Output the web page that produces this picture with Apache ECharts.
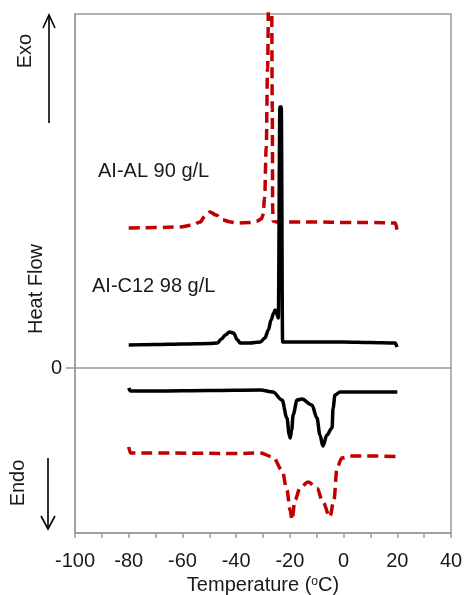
<!DOCTYPE html>
<html>
<head>
<meta charset="utf-8">
<script src="https://cdn.jsdelivr.net/npm/echarts@6/dist/echarts.min.js"></script>
<style>
  html, body { margin: 0; padding: 0; background: #fff; }
  #chart { width: 464px; height: 595px; }
</style>
</head>
<body>
<div id="chart"></div>
<script>
// DSC thermograms: cooling (exothermic, upper) and heating (endothermic, lower) scans
const xTicks = [-100, -80, -60, -40, -20, 0, 20, 40];

// AI-AL 90 g/L, cooling scan
const alCoolT = [-80, -79.3, -70, -61, -56, -53.5, -51.5, -49.7, -47.5, -45, -42, -39.7, -35, -32.2, -30.6, -30.0, -29.4, -28.8, -28.3, -27.8, -27.3, -26.8, -26.55, -26.4, -26.2, -25, -20, -10, 0, 10, 19.3, 20];
const alCoolQ = [14.0, 14.0, 14.05, 14.1, 14.3, 14.6, 15.2, 15.6, 15.3, 14.8, 14.6, 14.5, 14.55, 14.7, 14.9, 15.3, 17.0, 22.0, 30.0, 40.0, 46.0, 38.0, 26.0, 16.0, 14.7, 14.6, 14.6, 14.6, 14.55, 14.55, 14.5, 13.6];

// AI-C12 98 g/L, cooling scan
const c12CoolT = [-80, -70, -60, -50, -47, -45.5, -44, -42.5, -41, -39.5, -38.5, -35, -31, -29.3, -28, -27, -26, -25.5, -24.9, -24.3, -23.7, -23.2, -22.7, -20, -10, 0, 10, 19.2, 19.9];
const c12CoolQ = [2.3, 2.35, 2.4, 2.45, 2.5, 2.9, 3.3, 3.6, 3.5, 2.8, 2.5, 2.5, 2.6, 3.0, 3.8, 4.8, 5.5, 5.8, 5.4, 5.0, 26.1, 26.1, 2.6, 2.6, 2.6, 2.6, 2.55, 2.5, 2.1];

// AI-C12 98 g/L, heating scan
const c12HeatT = [-80, -79.3, -70, -50, -31, -26.3, -22.9, -21.1, -20.2, -19.9, -19.3, -18.8, -17.3, -15.5, -11.8, -9.9, -8.8, -7.7, -6.2, -4.3, -3.9, -3.2, -1.3, 2.4, 10, 20];
const c12HeatQ = [-2.0, -2.3, -2.3, -2.25, -2.2, -2.4, -3.2, -5.0, -6.7, -7.0, -6.2, -4.7, -3.2, -3.1, -3.7, -5.0, -6.7, -7.8, -6.7, -6.0, -4.0, -2.7, -2.4, -2.4, -2.4, -2.4];

// AI-AL 90 g/L, heating scan
const alHeatT = [-80, -79.3, -70, -40, -31, -26.3, -22.9, -21.1, -19.9, -19.2, -18.1, -16.2, -13.2, -9.9, -7.7, -5.1, -3.6, -2.4, -0.6, 2.4, 10, 20];
const alHeatQ = [-7.9, -8.5, -8.5, -8.55, -8.5, -8.9, -10.2, -12.2, -14.2, -15.2, -13.2, -12.0, -11.4, -12.0, -13.4, -14.9, -13.2, -9.9, -9.0, -8.8, -8.8, -8.85];

const pairs = (xs, ys) => xs.map((x, i) => [x, ys[i]]);

const RED = '#C00000';
const AXIS_GRAY = '#9a9a9a';
const FONT = 'Liberation Sans, Arial, sans-serif';

function curve(name, xs, ys, color, dashed) {
  return {
    name: name,
    type: 'line',
    data: pairs(xs, ys),
    showSymbol: false,
    smooth: 0.35,
    smoothMonotone: 'x',
    clip: true,
    silent: true,
    lineStyle: {
      color: color,
      width: 3.5,
      type: dashed ? [11, 6] : 'solid',
      join: 'round'
    },
    z: 3
  };
}

const chart = echarts.init(document.getElementById('chart'), null, { renderer: 'canvas' });

chart.setOption({
  animation: false,
  backgroundColor: '#ffffff',
  grid: {
    left: 75, right: 13, top: 14, bottom: 62,
    outerBoundsMode: 'none',
    containLabel: false,
    show: true,
    borderColor: AXIS_GRAY,
    borderWidth: 1.5,
    backgroundColor: 'transparent'
  },
  xAxis: {
    type: 'value',
    min: -100, max: 40, interval: 10,
    name: 'Temperature ({sup|o}C)',
    nameLocation: 'middle',
    nameGap: 31,
    nameTextStyle: {
      fontFamily: FONT, fontSize: 20, color: '#1a1a1a',
      rich: {
        sup: { fontFamily: FONT, fontSize: 12, color: '#1a1a1a', verticalAlign: 'top', padding: [0, 0, 8, 0] }
      }
    },
    axisLine: { onZero: false, lineStyle: { color: AXIS_GRAY, width: 1.5 } },
    axisTick: { show: true, inside: false, length: 5, lineStyle: { color: AXIS_GRAY, width: 1.5 } },
    axisLabel: {
      margin: 18,
      fontFamily: FONT, fontSize: 20, color: '#1a1a1a',
      formatter: v => (xTicks.indexOf(v) >= 0 ? String(v) : '')
    },
    splitLine: { show: false }
  },
  yAxis: {
    type: 'value',
    min: -16.5, max: 35.4,
    axisLine: { show: true, onZero: false, lineStyle: { color: AXIS_GRAY, width: 1.5 } },
    axisTick: { show: true, customValues: [0], length: 9, lineStyle: { color: AXIS_GRAY, width: 1.5 } },
    axisLabel: {
      customValues: [0],
      margin: 13,
      fontFamily: FONT, fontSize: 20, color: '#1a1a1a'
    },
    splitLine: { show: false }
  },
  series: [
    Object.assign(curve('AI-AL 90 g/L', alCoolT, alCoolQ, RED, true), {
      markLine: {
        silent: true,
        symbol: 'none',
        label: { show: false },
        lineStyle: { color: AXIS_GRAY, width: 1.5, type: 'solid' },
        data: [{ yAxis: 0 }]
      }
    }),
    curve('AI-C12 98 g/L', c12CoolT, c12CoolQ, '#000000', false),
    curve('AI-C12 98 g/L heating', c12HeatT, c12HeatQ, '#000000', false),
    curve('AI-AL 90 g/L heating', alHeatT, alHeatQ, RED, true)
  ],
  graphic: [
    // sample labels
    { type: 'text', left: 98, top: 161, style: { text: 'AI-AL 90 g/L', font: '20px ' + FONT, fill: '#1a1a1a' } },
    { type: 'text', left: 92, top: 276, style: { text: 'AI-C12 98 g/L', font: '20px ' + FONT, fill: '#1a1a1a' } },
    // Exo arrow
    { type: 'line', shape: { x1: 49, y1: 123, x2: 49, y2: 15 }, style: { stroke: '#000', lineWidth: 1.6 } },
    { type: 'polyline', shape: { points: [[43, 28], [49, 15], [55, 28]] }, style: { stroke: '#000', lineWidth: 1.6, fill: null } },
    // Endo arrow
    { type: 'line', shape: { x1: 48, y1: 458, x2: 48, y2: 529 }, style: { stroke: '#000', lineWidth: 1.6 } },
    { type: 'polyline', shape: { points: [[41, 516], [48, 529], [55, 516]] }, style: { stroke: '#000', lineWidth: 1.6, fill: null } },
    // rotated axis captions
    { type: 'text', x: 25, y: 51, rotation: Math.PI / 2,
      style: { text: 'Exo', font: '20px ' + FONT, fill: '#1a1a1a', align: 'center', verticalAlign: 'middle' } },
    { type: 'text', x: 36, y: 289, rotation: Math.PI / 2,
      style: { text: 'Heat Flow', font: '20px ' + FONT, fill: '#1a1a1a', align: 'center', verticalAlign: 'middle' } },
    { type: 'text', x: 18, y: 483, rotation: Math.PI / 2,
      style: { text: 'Endo', font: '20px ' + FONT, fill: '#1a1a1a', align: 'center', verticalAlign: 'middle' } }
  ]
});
</script>
</body>
</html>
